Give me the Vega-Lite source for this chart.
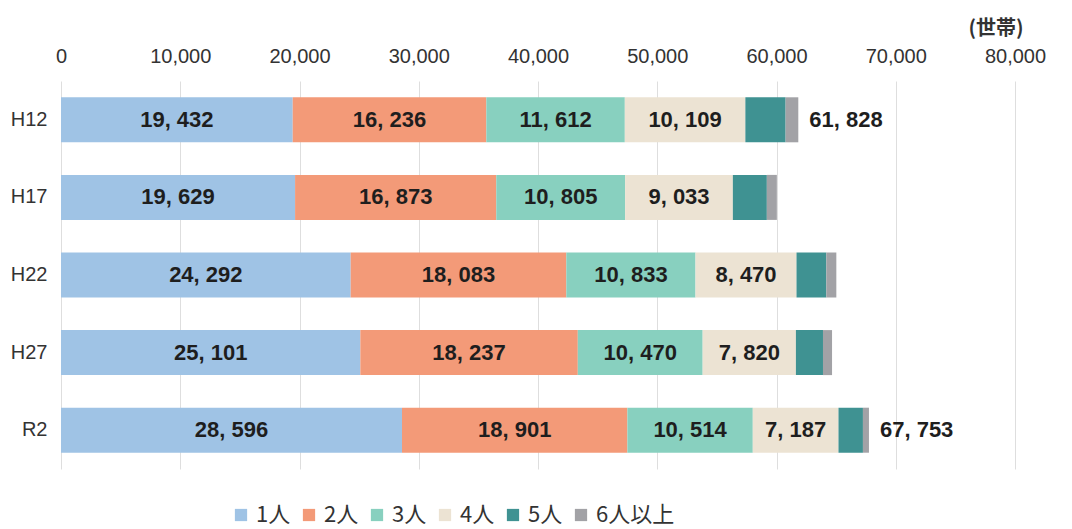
{
  "$schema": "https://vega.github.io/schema/vega-lite/v6.json",
  "width": 954,
  "height": 388,
  "autosize": "none",
  "padding": {"left": 61, "top": 81, "right": 57, "bottom": 60},
  "background": "white",
  "config": {"view": {"stroke": null}},
  "datasets": {
    "households": [
      {"year": "H12", "category": "1人", "order": 1, "value": 19432},
      {"year": "H12", "category": "2人", "order": 2, "value": 16236},
      {"year": "H12", "category": "3人", "order": 3, "value": 11612},
      {"year": "H12", "category": "4人", "order": 4, "value": 10109},
      {"year": "H12", "category": "5人", "order": 5, "value": 3375},
      {"year": "H12", "category": "6人以上", "order": 6, "value": 1064},
      {"year": "H17", "category": "1人", "order": 1, "value": 19629},
      {"year": "H17", "category": "2人", "order": 2, "value": 16873},
      {"year": "H17", "category": "3人", "order": 3, "value": 10805},
      {"year": "H17", "category": "4人", "order": 4, "value": 9033},
      {"year": "H17", "category": "5人", "order": 5, "value": 2850},
      {"year": "H17", "category": "6人以上", "order": 6, "value": 840},
      {"year": "H22", "category": "1人", "order": 1, "value": 24292},
      {"year": "H22", "category": "2人", "order": 2, "value": 18083},
      {"year": "H22", "category": "3人", "order": 3, "value": 10833},
      {"year": "H22", "category": "4人", "order": 4, "value": 8470},
      {"year": "H22", "category": "5人", "order": 5, "value": 2500},
      {"year": "H22", "category": "6人以上", "order": 6, "value": 840},
      {"year": "H27", "category": "1人", "order": 1, "value": 25101},
      {"year": "H27", "category": "2人", "order": 2, "value": 18237},
      {"year": "H27", "category": "3人", "order": 3, "value": 10470},
      {"year": "H27", "category": "4人", "order": 4, "value": 7820},
      {"year": "H27", "category": "5人", "order": 5, "value": 2270},
      {"year": "H27", "category": "6人以上", "order": 6, "value": 760},
      {"year": "R2", "category": "1人", "order": 1, "value": 28596},
      {"year": "R2", "category": "2人", "order": 2, "value": 18901},
      {"year": "R2", "category": "3人", "order": 3, "value": 10514},
      {"year": "R2", "category": "4人", "order": 4, "value": 7187},
      {"year": "R2", "category": "5人", "order": 5, "value": 2050},
      {"year": "R2", "category": "6人以上", "order": 6, "value": 505}
    ],
    "totals": [
      {"year": "H12", "total": 61828},
      {"year": "R2", "total": 67753}
    ]
  },
  "layer": [
    {
      "data": {"name": "households"},
      "transform": [
        {"stack": "value", "groupby": ["year"], "sort": [{"field": "order", "order": "ascending"}], "as": ["x0", "x1"]}
      ],
      "mark": {"type": "bar"},
      "encoding": {
        "x": {
          "field": "x0",
          "type": "quantitative",
          "scale": {"domain": [0, 80000], "nice": false},
          "axis": {
            "orient": "top",
            "values": [0, 10000, 20000, 30000, 40000, 50000, 60000, 70000, 80000],
            "format": ",d",
            "grid": true,
            "gridColor": "#dedede",
            "gridWidth": 1,
            "domain": false,
            "ticks": false,
            "labelFont": "Liberation Sans",
            "labelFontSize": 20,
            "labelColor": "#333333",
            "labelPadding": 15,
            "labelFlush": false,
            "title": "(世帯)",
            "titleFont": "Noto Sans CJK JP",
            "titleFontSize": 20,
            "titleFontWeight": "bold",
            "titleColor": "#333333",
            "titleX": 962,
            "titleY": -47,
            "titleAlign": "right",
            "titleBaseline": "alphabetic",
            "titleAnchor": null
          }
        },
        "x2": {"field": "x1"},
        "y": {
          "field": "year",
          "type": "nominal",
          "scale": {"domain": ["H12", "H17", "H22", "H27", "R2"], "paddingInner": 0.42, "paddingOuter": 0.21},
          "axis": {
            "title": null,
            "domain": false,
            "ticks": false,
            "labelFont": "Liberation Sans",
            "labelFontSize": 20,
            "labelColor": "#333333",
            "labelPadding": 14
          }
        },
        "color": {
          "field": "category",
          "type": "nominal",
          "scale": {
            "domain": ["1人", "2人", "3人", "4人", "5人", "6人以上"],
            "range": ["#9fc3e5", "#f39a78", "#88d0bf", "#ece3d3", "#3f9292", "#a2a2a6"]
          },
          "legend": {
            "title": null,
            "orient": "none",
            "direction": "horizontal",
            "columns": 6,
            "legendX": 169,
            "legendY": 423,
            "symbolType": "square",
            "symbolSize": 150,
            "symbolStrokeWidth": 0,
            "labelFont": "Noto Sans CJK JP",
            "labelFontSize": 22,
            "labelColor": "#333333",
            "labelOffset": 4,
            "columnPadding": 7
          }
        }
      }
    },
    {
      "data": {"name": "households"},
      "transform": [
        {"stack": "value", "groupby": ["year"], "sort": [{"field": "order", "order": "ascending"}], "as": ["x0", "x1"]},
        {"filter": "datum.value >= 5000"},
        {"calculate": "(datum.x0 + datum.x1) / 2", "as": "mid"},
        {"calculate": "replace(format(datum.value, ','), ',', ', ')", "as": "label"}
      ],
      "mark": {
        "type": "text",
        "align": "center",
        "baseline": "middle",
        "font": "Liberation Sans",
        "fontSize": 22,
        "fontWeight": "bold",
        "color": "#1e1e1e"
      },
      "encoding": {
        "x": {"field": "mid", "type": "quantitative"},
        "y": {"field": "year", "type": "nominal"},
        "text": {"field": "label"}
      }
    },
    {
      "data": {"name": "totals"},
      "transform": [
        {"calculate": "replace(format(datum.total, ','), ',', ', ')", "as": "label"}
      ],
      "mark": {
        "type": "text",
        "align": "left",
        "baseline": "middle",
        "dx": 11,
        "font": "Liberation Sans",
        "fontSize": 22,
        "fontWeight": "bold",
        "color": "#1e1e1e"
      },
      "encoding": {
        "x": {"field": "total", "type": "quantitative"},
        "y": {"field": "year", "type": "nominal"},
        "text": {"field": "label"}
      }
    }
  ]
}
